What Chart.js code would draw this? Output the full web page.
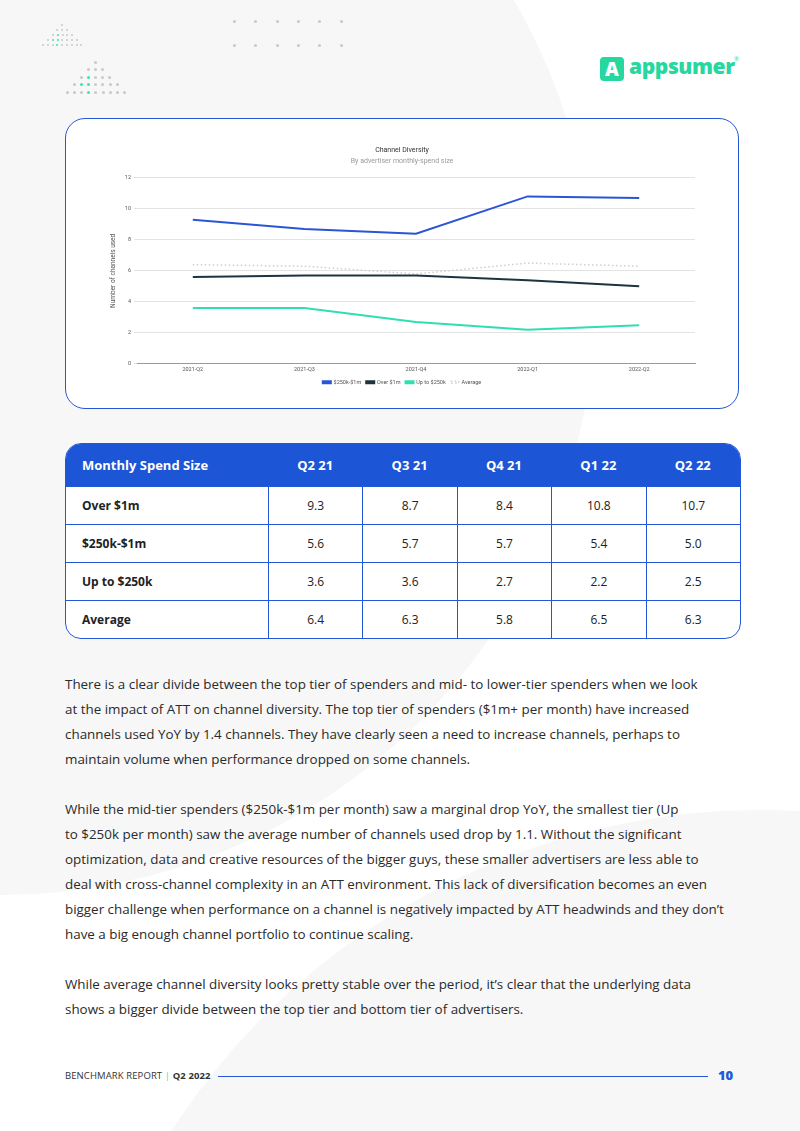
<!DOCTYPE html>
<html>
<head>
<meta charset="utf-8">
<script src="https://cdn.jsdelivr.net/npm/chart.js@4.4.0/dist/chart.umd.min.js"></script>
<style>
  body { margin: 0; background: #fff; font-family: "Open Sans", sans-serif; }
  #page { position: relative; width: 800px; height: 1131px; overflow: hidden; background: #fff; }
  .blob { position: absolute; border-radius: 50%; background: #f7f7f7; }
  .dot { position: absolute; width: 3px; height: 3px; border-radius: 50%; background: #c9c9c9; }
  .dot.s { width: 2px; height: 2px; }
  .dot.g { background: #3ee0b5; }
  #chartBox { position: absolute; left: 65px; top: 118px; width: 672px; height: 289px; border: 1.5px solid #2457d8; border-radius: 20px; background: #fff; }
  #chartWrap { position: absolute; left: 100px; top: 138px; width: 620px; height: 259px; }
  table { position: absolute; left: 65px; top: 443px; width: 676px; border-collapse: separate; border-spacing: 0; background: #fff;
          border: 1.5px solid #2457d8; border-radius: 16px; overflow: hidden; font-size: 12px; color: #222; }
  th { background: #1c55d6; color: #fff; height: 42px; padding: 0; font-size: 13px; font-weight: 700; text-align: center; }
  th:first-child { text-align: left; padding-left: 16px; }
  td { height: 37px; padding: 0; text-align: center; border-top: 1px solid #2457d8; border-left: 1px solid #2457d8; }
  td:first-child { text-align: left; padding-left: 16px; font-weight: 700; border-left: none; }
  .txt { position: absolute; left: 65px; white-space: nowrap; font-size: 13.4px; line-height: 25px; color: #2a2a2a; }
  #footer { position: absolute; left: 65px; top: 1069px; font-size: 9.5px; color: #333; letter-spacing: 0.1px; }
  #fline { position: absolute; left: 218px; top: 1076px; width: 490px; height: 1px; background: #2457d8; }
  #pnum { position: absolute; left: 718px; top: 1066px; font-size: 13px; font-weight: 800; color: #2457d8; }
  #logo { position: absolute; left: 600px; top: 57px; }
  #logo .box { position: absolute; left: 0; top: 0; width: 24px; height: 24px; background: #26d79f; border-radius: 4px; color: #fff; font: 800 19px "Open Sans"; text-align: center; line-height: 24px; }
  #logo .word { position: absolute; left: 29px; top: -5px; font: 800 21px "Open Sans"; color: #26d79f; letter-spacing: -0.4px; white-space: nowrap; }
  #logo .reg { position: absolute; left: 134px; top: -2px; font-size: 6px; color: #26d79f; }
</style>
</head>
<body>
<div id="page">
  <div class="blob" style="left:-595px; top:-295px; width:1190px; height:1190px;"></div>
  <div class="blob" style="left:60px; top:810px; width:1400px; height:1400px;"></div>
  <div id="dots"></div>

  <div id="logo"><div class="box">A</div><div class="word">appsumer</div><div class="reg">®</div></div>

  <div id="chartBox"></div>
  <div id="chartWrap"><canvas id="chart"></canvas></div>

  <table>
    <thead>
      <tr><th style="width:186px">Monthly Spend Size</th><th>Q2 21</th><th>Q3 21</th><th>Q4 21</th><th>Q1 22</th><th>Q2 22</th></tr>
    </thead>
    <tbody id="tbody"></tbody>
  </table>

  <div class="txt" style="top:672px">There is a clear divide between the top tier of spenders and mid- to lower-tier spenders when we look<br>at the impact of ATT on channel diversity. The top tier of spenders ($1m+ per month) have increased<br>channels used YoY by 1.4 channels. They have clearly seen a need to increase channels, perhaps to<br>maintain volume when performance dropped on some channels.</div>
  <div class="txt" style="top:797px">While the mid-tier spenders ($250k-$1m per month) saw a marginal drop YoY, the smallest tier (Up<br>to $250k per month) saw the average number of channels used drop by 1.1. Without the significant<br>optimization, data and creative resources of the bigger guys, these smaller advertisers are less able to<br>deal with cross-channel complexity in an ATT environment. This lack of diversification becomes an even<br>bigger challenge when performance on a channel is negatively impacted by ATT headwinds and they don’t<br>have a big enough channel portfolio to continue scaling.</div>
  <div class="txt" style="top:972px">While average channel diversity looks pretty stable over the period, it’s clear that the underlying data<br>shows a bigger divide between the top tier and bottom tier of advertisers.</div>

  <div id="footer">BENCHMARK REPORT <span style="color:#3ee0b5">|</span> <b>Q2 2022</b></div>
  <div id="fline"></div>
  <div id="pnum">10</div>
</div>

<script>
// chart data
let quarters = ["2021-Q2", "2021-Q3", "2021-Q4", "2022-Q1", "2022-Q2"];
let tableQuarters = ["Q2 21", "Q3 21", "Q4 21", "Q1 22", "Q2 22"];
let seriesNames = ["$250k-$1m", "Over $1m", "Up to $250k", "Average"];
let overOneM = [9.3, 8.7, 8.4, 10.8, 10.7];
let midTier = [5.6, 5.7, 5.7, 5.4, 5.0];
let upTo250k = [3.6, 3.6, 2.7, 2.2, 2.5];
let average = [6.4, 6.3, 5.8, 6.5, 6.3];
let yTicks = [0, 2, 4, 6, 8, 10, 12];

// table rows
let rows = [["Over $1m", overOneM], ["$250k-$1m", midTier], ["Up to $250k", upTo250k], ["Average", average]];
let tbody = document.getElementById("tbody");
rows.forEach((r) => {
  let cells = r[1].map((v) => `<td>${v.toFixed(1)}</td>`).join("");
  tbody.insertAdjacentHTML("beforeend", `<tr><td>${r[0]}</td>${cells}</tr>`);
});

// decorative dots
let dots = document.getElementById("dots");
function addDot(x, y, cls) {
  dots.insertAdjacentHTML("beforeend", `<div class="dot ${cls}" style="left:${x}px;top:${y}px"></div>`);
}
for (let i = 0; i < 6; i++) {
  addDot(233 + i * 21.3, 20, "");
  addDot(233 + i * 21.3, 44, "");
}
let smallRows = [[61, 1], [56, 3], [52, 5], [47, 7], [42, 9]];
smallRows.forEach((sr, r) => {
  for (let c = 0; c < sr[1]; c++) {
    let x = sr[0] + c * 4.8;
    let green = (r == 2 && c == 1) || (r == 3 && (c == 1 || c == 2)) || (r == 4 && c == 3);
    addDot(x, 24 + r * 5, "s" + (green ? " g" : ""));
  }
});
let bigRows = [[95, 1], [88, 3], [81, 5], [74, 7], [67, 9]];
bigRows.forEach((br, r) => {
  for (let c = 0; c < br[1]; c++) {
    let x = br[0] + c * 7.1;
    let green = (r == 2 && c == 1) || (r == 3 && (c == 1 || c == 2)) || (r == 4 && c == 3);
    addDot(x - 1, 61 + r * 7.4, green ? "g" : "");
  }
});

// chart
const config = {
  type: "line",
  data: {
    labels: quarters,
    datasets: [
      { label: seriesNames[0], data: overOneM, borderColor: "#2a56d6", backgroundColor: "#2a56d6", borderWidth: 2 },
      { label: seriesNames[1], data: midTier, borderColor: "#1e3340", backgroundColor: "#1e3340", borderWidth: 2 },
      { label: seriesNames[2], data: upTo250k, borderColor: "#2fdfb0", backgroundColor: "#2fdfb0", borderWidth: 2 },
      { label: seriesNames[3], data: average, borderColor: "#cfcfcf", backgroundColor: "rgba(0,0,0,0)", borderWidth: 1.5, borderDash: [1.5, 2.5] },
    ],
  },
  options: {
    responsive: true,
    maintainAspectRatio: false,
    animation: false,
    elements: { point: { radius: 0 }, line: { tension: 0 } },
    layout: { padding: { left: 9, right: 25, top: 0, bottom: 2 } },
    scales: {
      x: {
        offset: true,
        grid: { display: false, drawTicks: false },
        border: { color: "#9a9a9a" },
        ticks: { color: "#555", font: { family: "Roboto", size: 5.5 }, maxRotation: 0, padding: 2 },
      },
      y: {
        min: 0,
        max: 12,
        afterBuildTicks: (scale) => { scale.ticks = yTicks.map((v) => ({ value: v })); },
        afterFit: (scale) => { scale.width = 28; },
        grid: { color: "#e3e3e3", tickLength: 3 },
        border: { display: false },
        ticks: { color: "#555", font: { family: "Roboto", size: 5.5 }, padding: 3 },
        title: { display: true, text: "Number of channels used", color: "#555", font: { family: "Roboto", size: 6.5 }, padding: 0 },
      },
    },
    plugins: {
      title: { display: true, text: "Channel Diversity", color: "#333", font: { family: "Roboto", size: 7, weight: "normal" }, padding: { top: 8, bottom: 3 } },
      subtitle: { display: true, text: "By advertiser monthly-spend size", color: "#9a9a9a", font: { family: "Roboto", size: 7 }, padding: { bottom: 12 } },
      legend: {
        position: "bottom",
        labels: { boxWidth: 8, boxHeight: 2, color: "#555", font: { family: "Roboto", size: 5.5 }, padding: 5 },
      },
      tooltip: { enabled: false },
    },
  },
};
let chart = new Chart(document.getElementById("chart"), config);
</script>
</body>
</html>
